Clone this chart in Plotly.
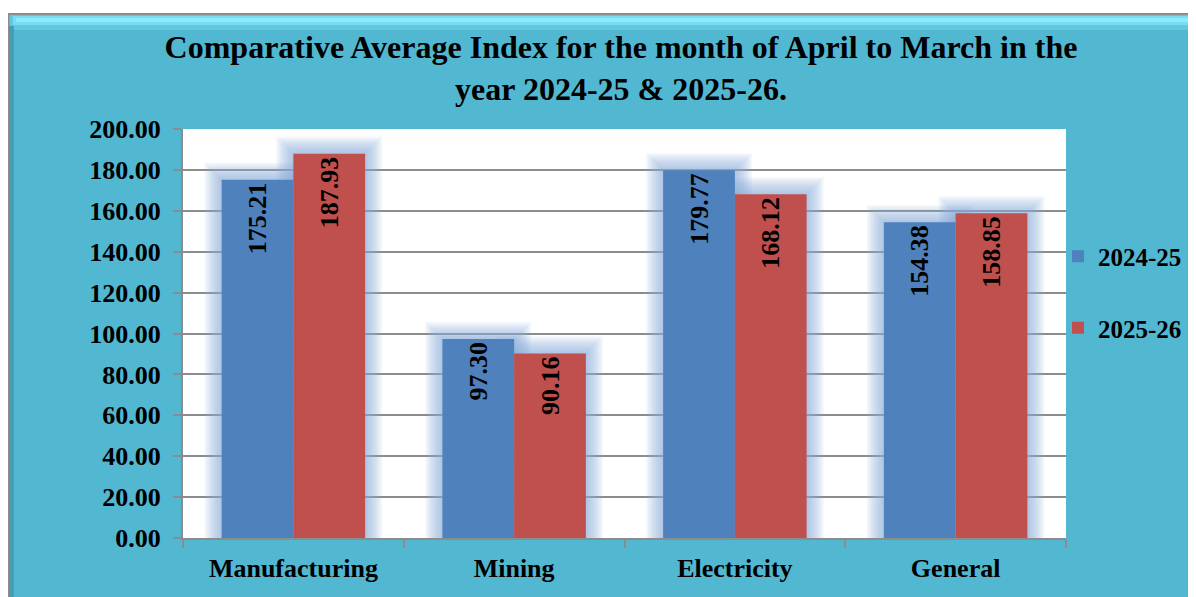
import plotly.graph_objects as go

categories = ["Manufacturing", "Mining", "Electricity", "General"]
series_names = ["2024-25", "2025-26"]
values_2024_25 = [175.21, 97.30, 179.77, 154.38]
values_2025_26 = [187.93, 90.16, 168.12, 158.85]
y_ticks = [0, 20, 40, 60, 80, 100, 120, 140, 160, 180, 200]

colors = ["#4F81BD", "#C0504D"]
series_values = [values_2024_25, values_2025_26]

# the page body adds an 8px margin; the figure is sized to fit the window
W, H = 1188, 589
ML, MR, MT, MB = 175, 130, 121, 59
plot_w = W - ML - MR
plot_h = H - MT - MB
cat_px = plot_w / len(categories)
unit_px = plot_h / 200.0
bar_w = 0.325  # fraction of category
FONT = "Liberation Serif, Times New Roman, serif"


def px_x(px):
    return (px - ML) / plot_w


def px_y(py):
    return (H - MB - py) / plot_h


fig = go.Figure()

# soft glow behind bars
glow_ext = [17, 15, 13, 11, 9, 7, 5, 3, 1.5]
for ext in glow_ext:
    for i, vals in enumerate(series_values):
        dx = ext / cat_px
        dy = ext / unit_px
        off = (-bar_w if i == 0 else 0.0) - dx
        fig.add_trace(go.Bar(
            x=categories, y=[v + dy for v in vals],
            width=bar_w + 2 * dx, offset=off,
            marker=dict(color="rgba(140,174,220,0.11)", line=dict(width=0)),
            showlegend=False, hoverinfo="skip",
        ))

for i, (name, vals) in enumerate(zip(series_names, series_values)):
    fig.add_trace(go.Bar(
        x=categories, y=vals, name=name,
        width=bar_w, offset=(-bar_w if i == 0 else 0.0),
        marker=dict(color=colors[i], line=dict(width=0)),
        text=[f"{v:.2f}" for v in vals],
        texttemplate="<b>%{text}</b>",
        textposition="inside", insidetextanchor="end", textangle=-90,
        textfont=dict(family=FONT, size=26, color="black"),
        legendgroup=name,
    ))

# panel background with bevel, then white plot area
fig.add_shape(type="rect", xref="paper", yref="paper",
              x0=px_x(0), x1=px_x(W + 20), y0=px_y(H + 20), y1=px_y(6),
              fillcolor="#52B7D1", line=dict(color="#8C8C8C", width=2), layer="below")
fig.add_shape(type="rect", xref="paper", yref="paper",
              x0=px_x(2), x1=px_x(W + 20), y0=px_y(22), y1=px_y(7),
              fillcolor="#62C8E2", line=dict(width=0), layer="below")
fig.add_shape(type="rect", xref="paper", yref="paper",
              x0=px_x(5), x1=px_x(W + 20), y0=px_y(17), y1=px_y(8),
              fillcolor="#78DDF3", line=dict(width=0), layer="below")
fig.add_shape(type="rect", xref="paper", yref="paper",
              x0=px_x(8), x1=px_x(W + 20), y0=px_y(14), y1=px_y(10),
              fillcolor="#8DEBFC", line=dict(width=0), layer="below")
fig.add_shape(type="rect", xref="paper", yref="paper",
              x0=px_x(1), x1=px_x(6), y0=px_y(H + 20), y1=px_y(18),
              fillcolor="#479DB3", line=dict(width=0), layer="below")
fig.add_shape(type="rect", xref="paper", yref="paper",
              x0=0, x1=1, y0=0, y1=1,
              fillcolor="white", line=dict(width=0), layer="below")

fig.update_layout(
    width=W, height=H,
    margin=dict(l=ML, r=MR, t=MT, b=MB, autoexpand=False),
    paper_bgcolor="white", plot_bgcolor="rgba(0,0,0,0)",
    barmode="overlay",
    title=dict(
        text="<b>Comparative Average Index for the month of April to March in the<br>year 2024-25 &amp; 2025-26.</b>",
        x=613 / W, xanchor="center", xref="container",
        y=1 - 50 / H, yanchor="top", yref="container",
        font=dict(family=FONT, size=32, color="black"),
    ),
    legend=dict(
        xref="container", yref="container",
        x=1050 / W, xanchor="left",
        y=1 - 284 / H, yanchor="middle",
        font=dict(family=FONT, size=25, color="black", weight="bold"),
        bgcolor="rgba(0,0,0,0)", tracegroupgap=36,
        itemwidth=30,
    ),
    font=dict(family=FONT, color="black"),
)
fig.update_xaxes(
    type="category", categoryorder="array", categoryarray=categories,
    tickson="boundaries", ticks="outside", ticklen=8, tickcolor="#8C8C8C", tickwidth=2,
    showline=True, linecolor="#8C8C8C", linewidth=2,
    tickfont=dict(family=FONT, size=26, color="black", weight="bold"),
    ticklabelstandoff=6, showgrid=False, automargin=False,
)
fig.update_yaxes(
    range=[0, 200], tickvals=y_ticks, ticktext=[f"{v:.2f}" for v in y_ticks],
    ticks="outside", ticklen=8, tickcolor="#8C8C8C", tickwidth=2,
    showline=True, linecolor="#8C8C8C", linewidth=2,
    showgrid=True, gridcolor="#8C8C8C", gridwidth=1.5,
    tickfont=dict(family=FONT, size=26, color="black", weight="bold"),
    ticklabelstandoff=7, zeroline=False, automargin=False,
)

fig.write_html("out.html")
